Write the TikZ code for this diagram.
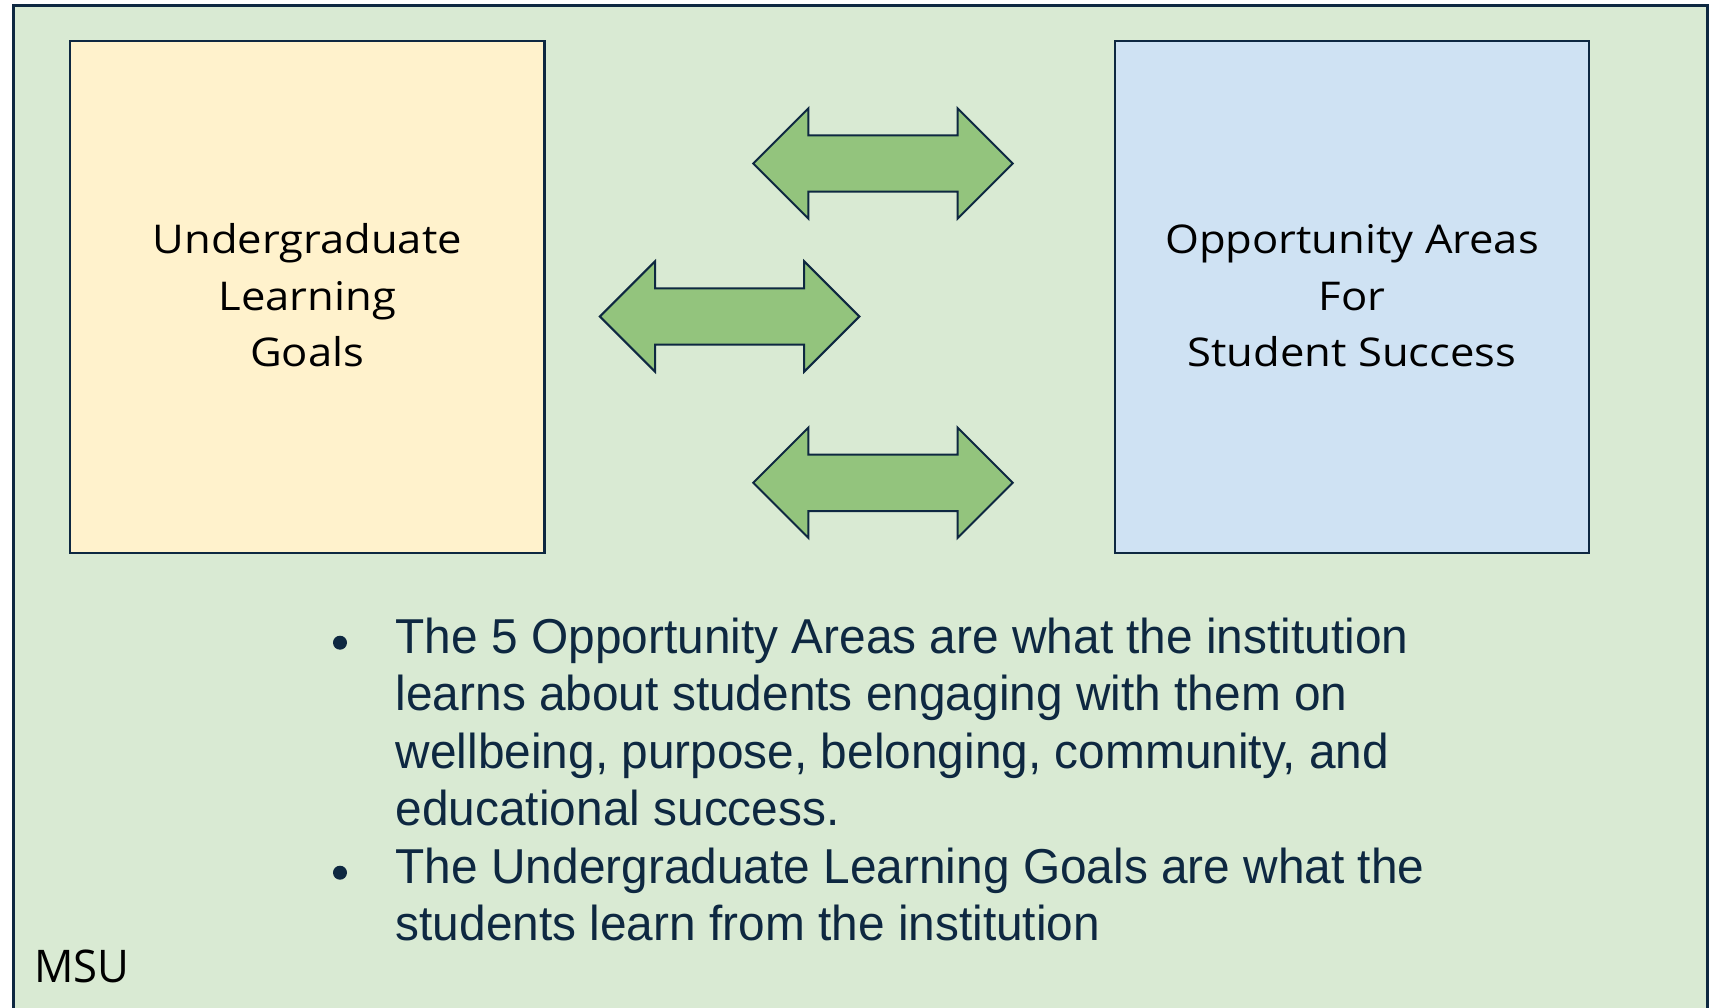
\documentclass[tikz,border=0pt]{standalone}
\usepackage{fontspec}
\setmainfont{Liberation Sans}
\newfontfamily\boxfont[FakeStretch=1.1]{Open Sans}
\newfontfamily\markfont[FakeStretch=0.97]{Open Sans}
\newfontfamily\notefont[FakeStretch=0.976]{Liberation Sans}
\usetikzlibrary{positioning,shapes.arrows}

\definecolor{panelgreen}{RGB}{217,234,211}
\definecolor{framenavy}{RGB}{14,40,65}
\definecolor{goalyellow}{RGB}{255,242,204}
\definecolor{areablue}{RGB}{207,226,243}
\definecolor{arrowgreen}{RGB}{147,196,125}

\begin{document}
\begin{tikzpicture}[
            x=1pt, y=-1pt,
            area box/.style={rectangle,draw=framenavy,line width=2.4pt,minimum width=474.5pt,minimum height=512pt,inner sep=0pt},
            box text/.style={font=\boxfont\fontsize{39.6}{56.5}\selectfont,align=center,anchor=base},
            link arrow/.style={double arrow,draw=framenavy,fill=arrowgreen,line width=2pt,double arrow head extend=27pt,inner xsep=0pt,inner ysep=27.2pt,minimum height=259.5pt},
            note text/.style={font=\notefont\fontsize{49}{57.4}\selectfont,text=framenavy,align=left,anchor=base west,inner sep=0pt},
            bullet dot/.style={circle,fill=framenavy,inner sep=0pt,minimum size=14pt},
        ]
            \useasboundingbox (0,0) rectangle (1709,1008);
            \draw[fill=panelgreen,draw=framenavy,line width=3pt] (13.5,5.5) rectangle (1707,1030);

            \node[area box, fill=goalyellow] (goals) at (307.25,297) {};
            \node[area box, fill=areablue] (areas) at (1352,297) {};
            % multi-line nodes sit on their last baseline
            \node[box text] (goals_t) at ([yshift=-327pt]goals.north) {Undergraduate\\Learning\\Goals};
            \node[box text] (areas_t) at ([yshift=-327pt]areas.north) {Opportunity Areas\\For\\Student Success};

            \node[link arrow] (arr_top) at (883,163.5) {};
            \node[link arrow] (arr_mid) at (729.6,316.5) {};
            \node[link arrow] (arr_bot) at (883,482.8) {};

            \node[bullet dot] (dot_a) at (340,642.7) {};
            \node[note text] (note_a) at (395.5,825.5) {The 5 Opportunity Areas are what the institution\\learns about students engaging with them on\\wellbeing, purpose, belonging, community, and\\educational success.};
            \node[bullet dot] (dot_b) at (340,872.7) {};
            \node[note text] (note_b) at (395.5,940.7) {The Undergraduate Learning Goals are what the\\students learn from the institution};

            \node[font=\markfont\fontsize{45}{50}\selectfont,anchor=base west,inner sep=0pt] (msu) at (34,982.3) {MSU};
        \end{tikzpicture}
\end{document}
